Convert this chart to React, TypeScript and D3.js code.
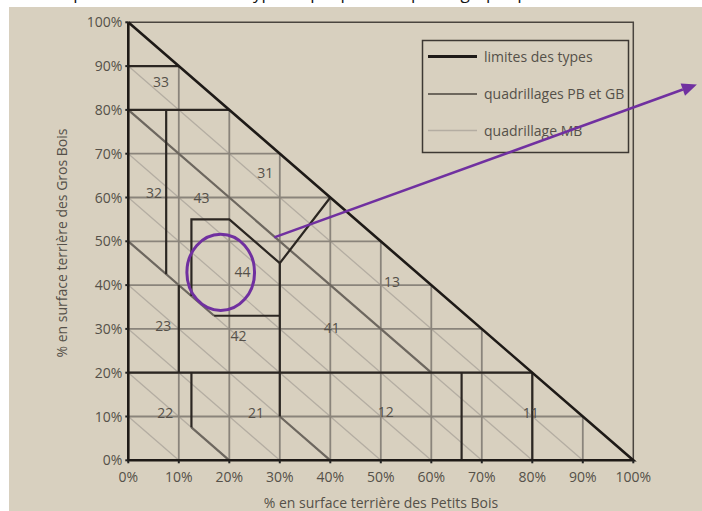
import React from "react";
import * as d3 from "d3";

// ---- data ----
const axisTicks = [0, 10, 20, 30, 40, 50, 60, 70, 80, 90, 100];
const gridLevels = [10, 20, 30, 40, 50, 60, 70, 80, 90]; // PB and GB grid
const mbLevels = [10, 20, 30, 40, 50, 60, 70, 80, 90]; // PB+GB = const (MB grid)

// type limits (PB %, GB %)
const typeLimits: [number, number][][] = [
  [[0, 90], [10, 90]],
  [[0, 80], [20, 80]],
  [[7.5, 80], [7.5, 42.5]],
  [[10, 40], [10, 20]],
  [[0, 20], [80, 20]],
  [[12.5, 20], [12.5, 7.5]],
  [[12.5, 37.5], [12.5, 55], [20, 55], [30, 45], [40, 60]],
  [[17, 33], [30, 33]],
  [[30, 45], [30, 10]],
  [[66, 20], [66, 0]],
  [[80, 20], [80, 0]],
];
// diagonal type limits (along MB lines)
const diagLimits: [number, number][][] = [
  [[0, 80], [60, 20]],
  [[0, 50], [17, 33]],
  [[12.5, 7.5], [20, 0]],
  [[30, 10], [40, 0]],
];

const regionNames = ["33", "31", "32", "43", "44", "13", "23", "42", "41", "22", "21", "12", "11"];
const regionPB = [6.5, 27.1, 5.1, 14.5, 22.6, 52.2, 6.9, 21.8, 40.3, 7.3, 25.3, 51, 79.7];
const regionGB = [86.4, 65.7, 61, 60, 43.1, 40.6, 30.7, 28.4, 30.1, 10.9, 10.7, 11, 10.9];

const legendLabels = ["limites des types", "quadrillages PB et GB", "quadrillage MB"];

// annotation (data units)
const circleCenter = [18.3, 42.9];
const circleRadii = [6.7, 8.7];
const arrowFrom = [28.9, 50.9];
const arrowTo = [112.6, 85.8];

const FONT = "'Open Sans', 'Noto Sans', sans-serif";

export default function App() {
  const x = d3.scaleLinear().domain([0, 100]).range([128.3, 633.3]);
  const y = d3.scaleLinear().domain([0, 100]).range([460.3, 22.3]);
  const line = d3
    .line<[number, number]>()
    .x((d) => x(d[0]))
    .y((d) => y(d[1]));

  const gridCol = "#8a847b";
  const mbCol = "#b4ada2";
  const limitCol = "#2b2622";
  const diagCol = "#6d675f";
  const textCol = "#555049";
  const purple = "#7030a0";

  const ax = x(arrowTo[0]);
  const ay = y(arrowTo[1]);
  const fx = x(arrowFrom[0]);
  const fy = y(arrowFrom[1]);
  const ang = Math.atan2(ay - fy, ax - fx);
  const hl = 15,
    hw = 6.5;
  const bx = ax - hl * Math.cos(ang);
  const by = ay - hl * Math.sin(ang);
  const head = `M${ax},${ay} L${bx + hw * Math.sin(ang)},${by - hw * Math.cos(ang)} L${bx - hw * Math.sin(ang)},${by + hw * Math.cos(ang)} Z`;

  const legendX = 422.5,
    legendY = 40.5;
  const legendRows = [56.5, 94, 130.5];

  return (
    <svg
      width={702}
      height={511}
      style={{ position: "absolute", left: 0, top: 0, fontFamily: FONT }}
    >
      <rect x={0} y={0} width={702} height={511} fill="#ffffff" />
      <text x={30} y={-1} fontSize={17} fill="#111">
        Vous pouvez déterminer le type de peuplement par le graphique ci-dessous
      </text>
      <rect x={9} y={7} width={693} height={504} fill="#d8d0bf" />

      {/* MB grid */}
      {mbLevels.map((s) => (
        <path key={"mb" + s} d={line([[0, s], [s, 0]])!} stroke={mbCol} strokeWidth={1.3} fill="none" />
      ))}
      {/* PB / GB grid */}
      {gridLevels.map((v) => (
        <path key={"gv" + v} d={line([[v, 0], [v, 100 - v]])!} stroke={gridCol} strokeWidth={1.8} fill="none" />
      ))}
      {gridLevels.map((v) => (
        <path key={"gh" + v} d={line([[0, v], [100 - v, v]])!} stroke={gridCol} strokeWidth={1.8} fill="none" />
      ))}

      {/* frame */}
      <path
        d={`M${x(0)},${y(100)} L${x(100)},${y(100)} L${x(100)},${y(0)}`}
        stroke="#4a453f"
        strokeWidth={1.5}
        fill="none"
      />

      {/* diagonal limits */}
      {diagLimits.map((p, i) => (
        <path key={"dl" + i} d={line(p)!} stroke={diagCol} strokeWidth={2.2} fill="none" />
      ))}
      {/* type limits */}
      {typeLimits.map((p, i) => (
        <path key={"tl" + i} d={line(p)!} stroke={limitCol} strokeWidth={2.2} fill="none" strokeLinejoin="miter" />
      ))}
      {/* triangle */}
      <path
        d={line([[0, 100], [0, 0], [100, 0], [0, 100]])!}
        stroke="#1e1a17"
        strokeWidth={2.6}
        fill="none"
      />

      {/* axes ticks */}
      {axisTicks.map((t) => (
        <g key={"xt" + t}>
          <line x1={x(t)} x2={x(t)} y1={y(0)} y2={y(0) + 3} stroke="#222" strokeWidth={2} />
          <text x={x(t)} y={y(0) + 22} textAnchor="middle" fontSize={14} fill={textCol}>
            {t}%
          </text>
        </g>
      ))}
      {axisTicks.map((t) => (
        <g key={"yt" + t}>
          <line x1={x(0) - 3} x2={x(0)} y1={y(t)} y2={y(t)} stroke="#222" strokeWidth={2} />
          <text x={x(0) - 6} y={y(t) + 5} textAnchor="end" fontSize={14} fill={textCol}>
            {t}%
          </text>
        </g>
      ))}

      {/* axis titles */}
      <text x={381} y={508} textAnchor="middle" fontSize={14} fill={textCol}>
        % en surface terrière des Petits Bois
      </text>
      <text
        transform={`translate(67,243) rotate(-90)`}
        textAnchor="middle"
        fontSize={14}
        fill={textCol}
      >
        % en surface terrière des Gros Bois
      </text>

      {/* region labels */}
      {regionNames.map((n, i) => (
        <text
          key={"r" + n}
          x={x(regionPB[i])}
          y={y(regionGB[i]) + 5}
          textAnchor="middle"
          fontSize={14}
          fill={textCol}
        >
          {n}
        </text>
      ))}

      {/* legend */}
      <rect x={legendX} y={legendY} width={206} height={112} fill="none" stroke="#3d3833" strokeWidth={1.5} />
      {legendLabels.map((lab, i) => (
        <g key={lab}>
          <line
            x1={428}
            x2={477}
            y1={legendRows[i]}
            y2={legendRows[i]}
            stroke={i === 0 ? "#1e1a17" : i === 1 ? "#4a443d" : "#b4ada2"}
            strokeWidth={i === 0 ? 3 : i === 1 ? 1.6 : 1.4}
          />
          <text x={484} y={legendRows[i] + 5} fontSize={14} fill={textCol}>
            {lab}
          </text>
        </g>
      ))}

      {/* annotation */}
      <ellipse
        cx={x(circleCenter[0])}
        cy={y(circleCenter[1])}
        rx={x(circleRadii[0]) - x(0)}
        ry={y(0) - y(circleRadii[1])}
        fill="none"
        stroke={purple}
        strokeWidth={3}
      />
      <line x1={fx} y1={fy} x2={bx} y2={by} stroke={purple} strokeWidth={2.6} />
      <path d={head} fill={purple} />
    </svg>
  );
}
